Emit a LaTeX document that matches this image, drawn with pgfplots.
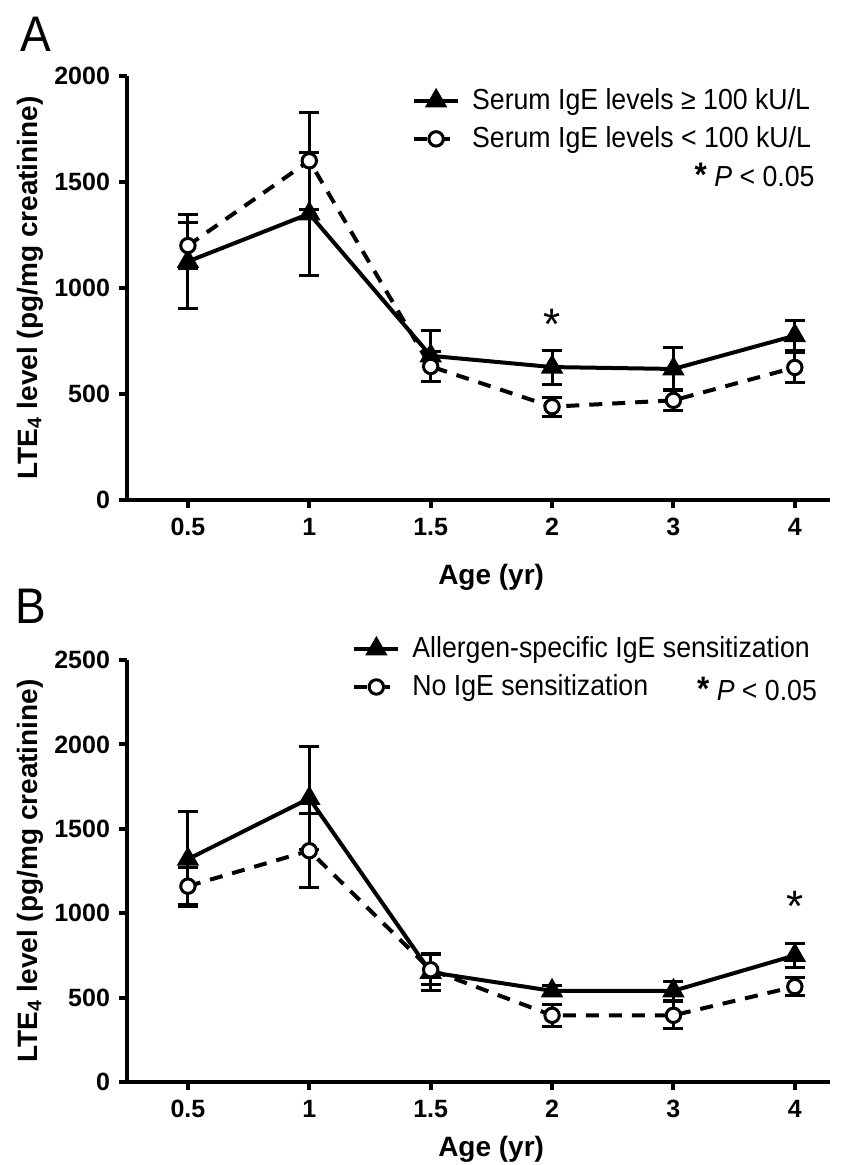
\documentclass[border=0pt]{standalone}
\usepackage{fontspec}
\setmainfont{Liberation Sans}
\newfontfamily\condfont{Liberation Sans}[FakeStretch=0.92]
\usepackage{pgfplots}
\usepackage{pgfplotstable}
\pgfplotsset{compat=1.18}

% x: 0=0.5 yr, 1=1, 2=1.5, 3=2, 4=3, 5=4 yr
\pgfplotstableread{
x y e
0 1125 220
1 1350 290
2 680 120
3 627 80
4 618 100
5 775 70
}\Ahigh
\pgfplotstableread{
x y e
0 1200 110
1 1600 230
2 630 70
3 440 45
4 470 50
5 625 70
}\Alow
\pgfplotstableread{
x y e
0 1320 280
1 1680 305
2 650 110
3 540 30
4 540 55
5 750 70
}\Bsens
\pgfplotstableread{
x y e
0 1160 110
1 1370 220
2 665 90
3 395 65
4 395 80
5 565 55
}\Bnone

\pgfplotsset{
  panel/.style={
    scale only axis, width=351.5pt, clip=false,
    axis lines*=left,
    xmin=-0.502, xmax=5.29, ymin=0,
    xtick={0,...,5}, xticklabels={0.5,1,1.5,2,3,4},
    tick align=outside, major tick length=4pt,
    every tick/.style={line width=2pt, black},
    axis line style={line width=2pt},
    minor tick num=0,
    tick label style={font=\fontsize{12.5}{14}\selectfont\bfseries},
    xticklabel style={yshift=-1.5pt},
    yticklabel style={xshift=-1pt},
    /pgf/number format/assume math mode=true,
    /pgf/number format/1000 sep={},
    label style={font=\fontsize{14}{16}\selectfont\bfseries},
    ylabel={LTE\textsubscript{4} level (pg/mg creatinine)},
    xlabel={Age (yr)},
    legend style={draw=none, fill=none, inner sep=0pt, anchor=north west,
      font=\condfont\fontsize{14.5}{17}\selectfont, row sep=3pt,
      cells={anchor=west},
      /tikz/every odd column/.append style={column sep=4pt}},
    legend image code/.code={\draw[mark repeat=2,mark phase=2,#1] plot coordinates {(0pt,0pt)(11pt,0pt)(22pt,0pt)};},
  },
  hi/.style={black, line width=2pt, mark=triangle*, mark size=4.5pt, mark options={solid},
    error bars/.cd, y dir=both, y explicit,
    error bar style={line width=1.5pt, solid},
    error mark options={rotate=90, mark size=5pt, line width=1.5pt, solid}},
  lo/.style={black, line width=2pt, dash pattern=on 6.5pt off 5pt, mark=*, mark size=3.6pt,
    mark options={solid, fill=white, line width=1.5pt},
    error bars/.cd, y dir=both, y explicit,
    error bar style={line width=1.5pt, solid},
    error mark options={rotate=90, mark size=5pt, line width=1.5pt, solid}},
}

\begin{document}
\begin{tikzpicture}
\path[use as bounding box] (0,0) rectangle (426pt,582.5pt);

\node[anchor=north west, inner sep=0pt, font=\condfont\fontsize{25}{27}\selectfont] at (10pt,574pt) {A};
\node[anchor=north west, inner sep=0pt, font=\condfont\fontsize{25}{27}\selectfont] at (7.5pt,288pt) {B};

\begin{axis}[panel, at={(63.5pt,332.5pt)}, anchor=south west, height=212pt,
  ymax=2000, ytick={0,500,...,2000},
  ylabel style={at={(axis description cs:-0.138,0.5)}, anchor=center},
  xlabel style={at={(axis description cs:0.518,-0.182)}, anchor=center},
  legend style={at={(axis description cs:0.405,0.98)}}]
\addplot[hi] table[x=x, y=y, y error=e] {\Ahigh};
\addplot[lo] table[x=x, y=y, y error=e] {\Alow};
\legend{Serum IgE levels ≥ 100 kU/L, Serum IgE levels < 100 kU/L}
\node[anchor=east, font=\condfont\fontsize{14.5}{17}\selectfont] at (axis cs:5.22,1533) {{\fontsize{17}{17}\selectfont\textbf{*}} \textit{P} < 0.05};
\node[font=\fontsize{22}{22}\selectfont] at (axis cs:3,830) {*};
\end{axis}

\begin{axis}[panel, at={(63.5pt,41.5pt)}, anchor=south west, height=211pt,
  ymax=2500, ytick={0,500,...,2500},
  ylabel style={at={(axis description cs:-0.138,0.5)}, anchor=center},
  xlabel style={at={(axis description cs:0.518,-0.16)}, anchor=center},
  legend style={at={(axis description cs:0.32,1.065)}}]
\addplot[hi] table[x=x, y=y, y error=e] {\Bsens};
\addplot[lo] table[x=x, y=y, y error=e] {\Bnone};
\legend{Allergen-specific IgE sensitization, No IgE sensitization}
\node[anchor=east, font=\condfont\fontsize{14.5}{17}\selectfont] at (axis cs:5.24,2331) {{\fontsize{17}{17}\selectfont\textbf{*}} \textit{P} < 0.05};
\node[font=\fontsize{22}{22}\selectfont] at (axis cs:5,1040) {*};
\end{axis}
\end{tikzpicture}
\end{document}
